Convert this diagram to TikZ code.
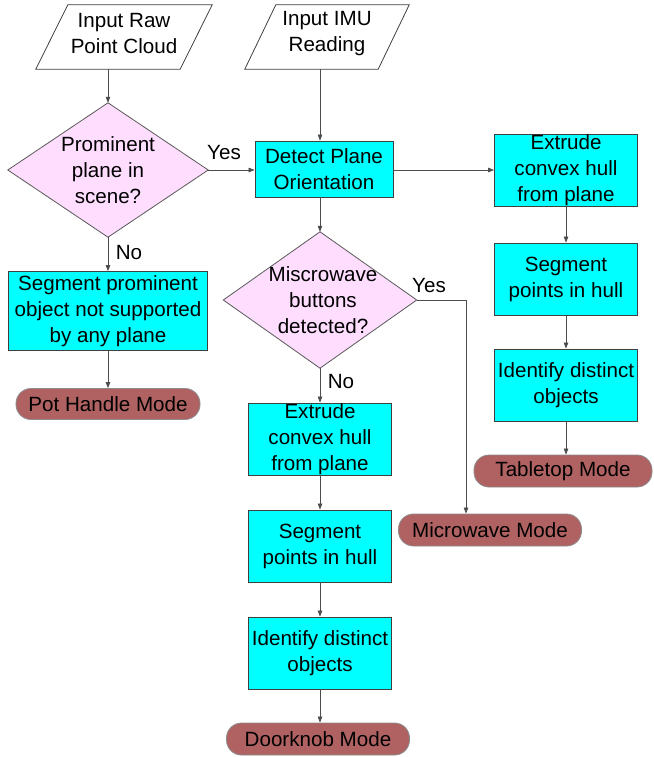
\documentclass[tikz,border=0pt]{standalone}
\usepackage{fontspec}
\setmainfont{Liberation Sans}
\usetikzlibrary{calc,arrows.meta}
\pgfdeclarelayer{background}
\pgfsetlayers{background,main}
\definecolor{termcol}{RGB}{176,98,98}
\definecolor{pinkfill}{RGB}{255,221,255}
\definecolor{cyanbox}{RGB}{0,255,255}
\begin{document}
\begin{tikzpicture}[x=1pt,y=-1pt,
  font=\fontsize{20.6}{26}\selectfont,
  every node/.style={inner sep=0pt, align=center},
  procbox/.style={draw=black!75, fill=cyanbox, line width=0.8pt},
  termbox/.style={draw=black!45, fill=termcol, rounded corners=15pt, line width=0.8pt},
  iobox/.style={draw=black!75, fill=white, line width=0.8pt},
  decbox/.style={draw=black!65, fill=pinkfill, line width=0.8pt},
  arr/.style={draw=black!70, line width=0.7pt, -{Triangle[length=6pt,width=4.5pt]}},
  lbl/.style={font=\fontsize{20.6}{24}\selectfont}
]
\useasboundingbox (0,0) rectangle (653,757);

% inputs
\node (raw) at (124,37) [minimum width=176pt, minimum height=64pt] {};
\node (rawtxt) at (124,34) {Input Raw\\Point Cloud};
\node (imu) at (327,37) [minimum width=164pt, minimum height=64pt] {};
\node (imutxt) at (327,34) {Input IMU\\Reading};

% decisions (text only; shapes on background)
\node (d1) at (108,170) [minimum width=200pt, minimum height=134pt] {Prominent\\plane in\\scene?};
\node (d2) at (320,300) [minimum width=193pt, minimum height=136pt] {};
\node (d2txt) at (323,300) {Miscrowave\\buttons\\detected?};

% processes
\node (detect) at (324,169) [procbox, minimum width=138pt, minimum height=56pt] {Detect Plane\\Orientation};
\node (ext2) at (566,170) [procbox, minimum width=143pt, minimum height=72pt] {Extrude\\convex hull\\from plane};
\node (seg2) at (566,279) [procbox, minimum width=143pt, minimum height=72pt] {Segment\\points in hull};
\node (id2) at (566,385) [procbox, minimum width=143pt, minimum height=72pt] {Identify distinct\\objects};
\node (segp) at (108,311) [procbox, minimum width=199pt, minimum height=79pt] {Segment prominent\\object not supported\\by any plane};
\node (ext1) at (320,439) [procbox, minimum width=143pt, minimum height=72pt] {Extrude\\convex hull\\from plane};
\node (seg1) at (320,546) [procbox, minimum width=143pt, minimum height=72pt] {Segment\\points in hull};
\node (id1) at (320,653) [procbox, minimum width=143pt, minimum height=72pt] {Identify distinct\\objects};

% terminals
\node (pot) at (108,404) [termbox, minimum width=184pt, minimum height=31pt] {Pot Handle Mode};
\node (table) at (563,471) [termbox, minimum width=178pt, minimum height=32pt] {Tabletop Mode};
\node (micro) at (490,530) [termbox, minimum width=183pt, minimum height=32pt] {Microwave Mode};
\node (door) at (318,739) [termbox, minimum width=183pt, minimum height=32pt] {Doorknob Mode};

% labels
\node[lbl] (yes1) at (224,153) {Yes};
\node[lbl] (no1) at (129,253) {No};
\node[lbl] (yes2) at (429,286) {Yes};
\node[lbl] (no2) at (341,382) {No};

\begin{pgfonlayer}{background}
\draw[iobox] ($(raw.north west)+(32,0)$) -- (raw.north east) -- ($(raw.south east)+(-32,0)$) -- (raw.south west) -- cycle;
\draw[iobox] ($(imu.north west)+(31,0)$) -- (imu.north east) -- ($(imu.south east)+(-31,0)$) -- (imu.south west) -- cycle;
\draw[decbox] (d1.north) -- (d1.east) -- (d1.south) -- (d1.west) -- cycle;
\draw[decbox] (d2.north) -- (d2.east) -- (d2.south) -- (d2.west) -- cycle;
\end{pgfonlayer}

% connectors
\draw[arr] (raw.south -| d1.north) -- (d1.north);
\draw[arr] (imu.south -| d2.north) -- (detect.north -| d2.north);
\draw[arr] (d1.east) -- (detect.west |- d1.east);
\draw[arr] (d1.south) -- (segp.north);
\draw[arr] (segp.south) -- (pot.north);
\draw[arr] (detect.south -| d2.north) -- (d2.north);
\draw[arr] (detect.east |- ext2.west) -- (ext2.west);
\draw[arr] (ext2.south) -- (seg2.north);
\draw[arr] (seg2.south) -- (id2.north);
\draw[arr] (id2.south) -- (id2.south |- table.north);
\draw[arr] (d2.east) -| ($(micro.north)+(-24,0)$);
\draw[arr] (d2.south) -- (ext1.north);
\draw[arr] (ext1.south) -- (seg1.north);
\draw[arr] (seg1.south) -- (id1.north);
\draw[arr] (id1.south) -- (id1.south |- door.north);
\end{tikzpicture}
\end{document}
